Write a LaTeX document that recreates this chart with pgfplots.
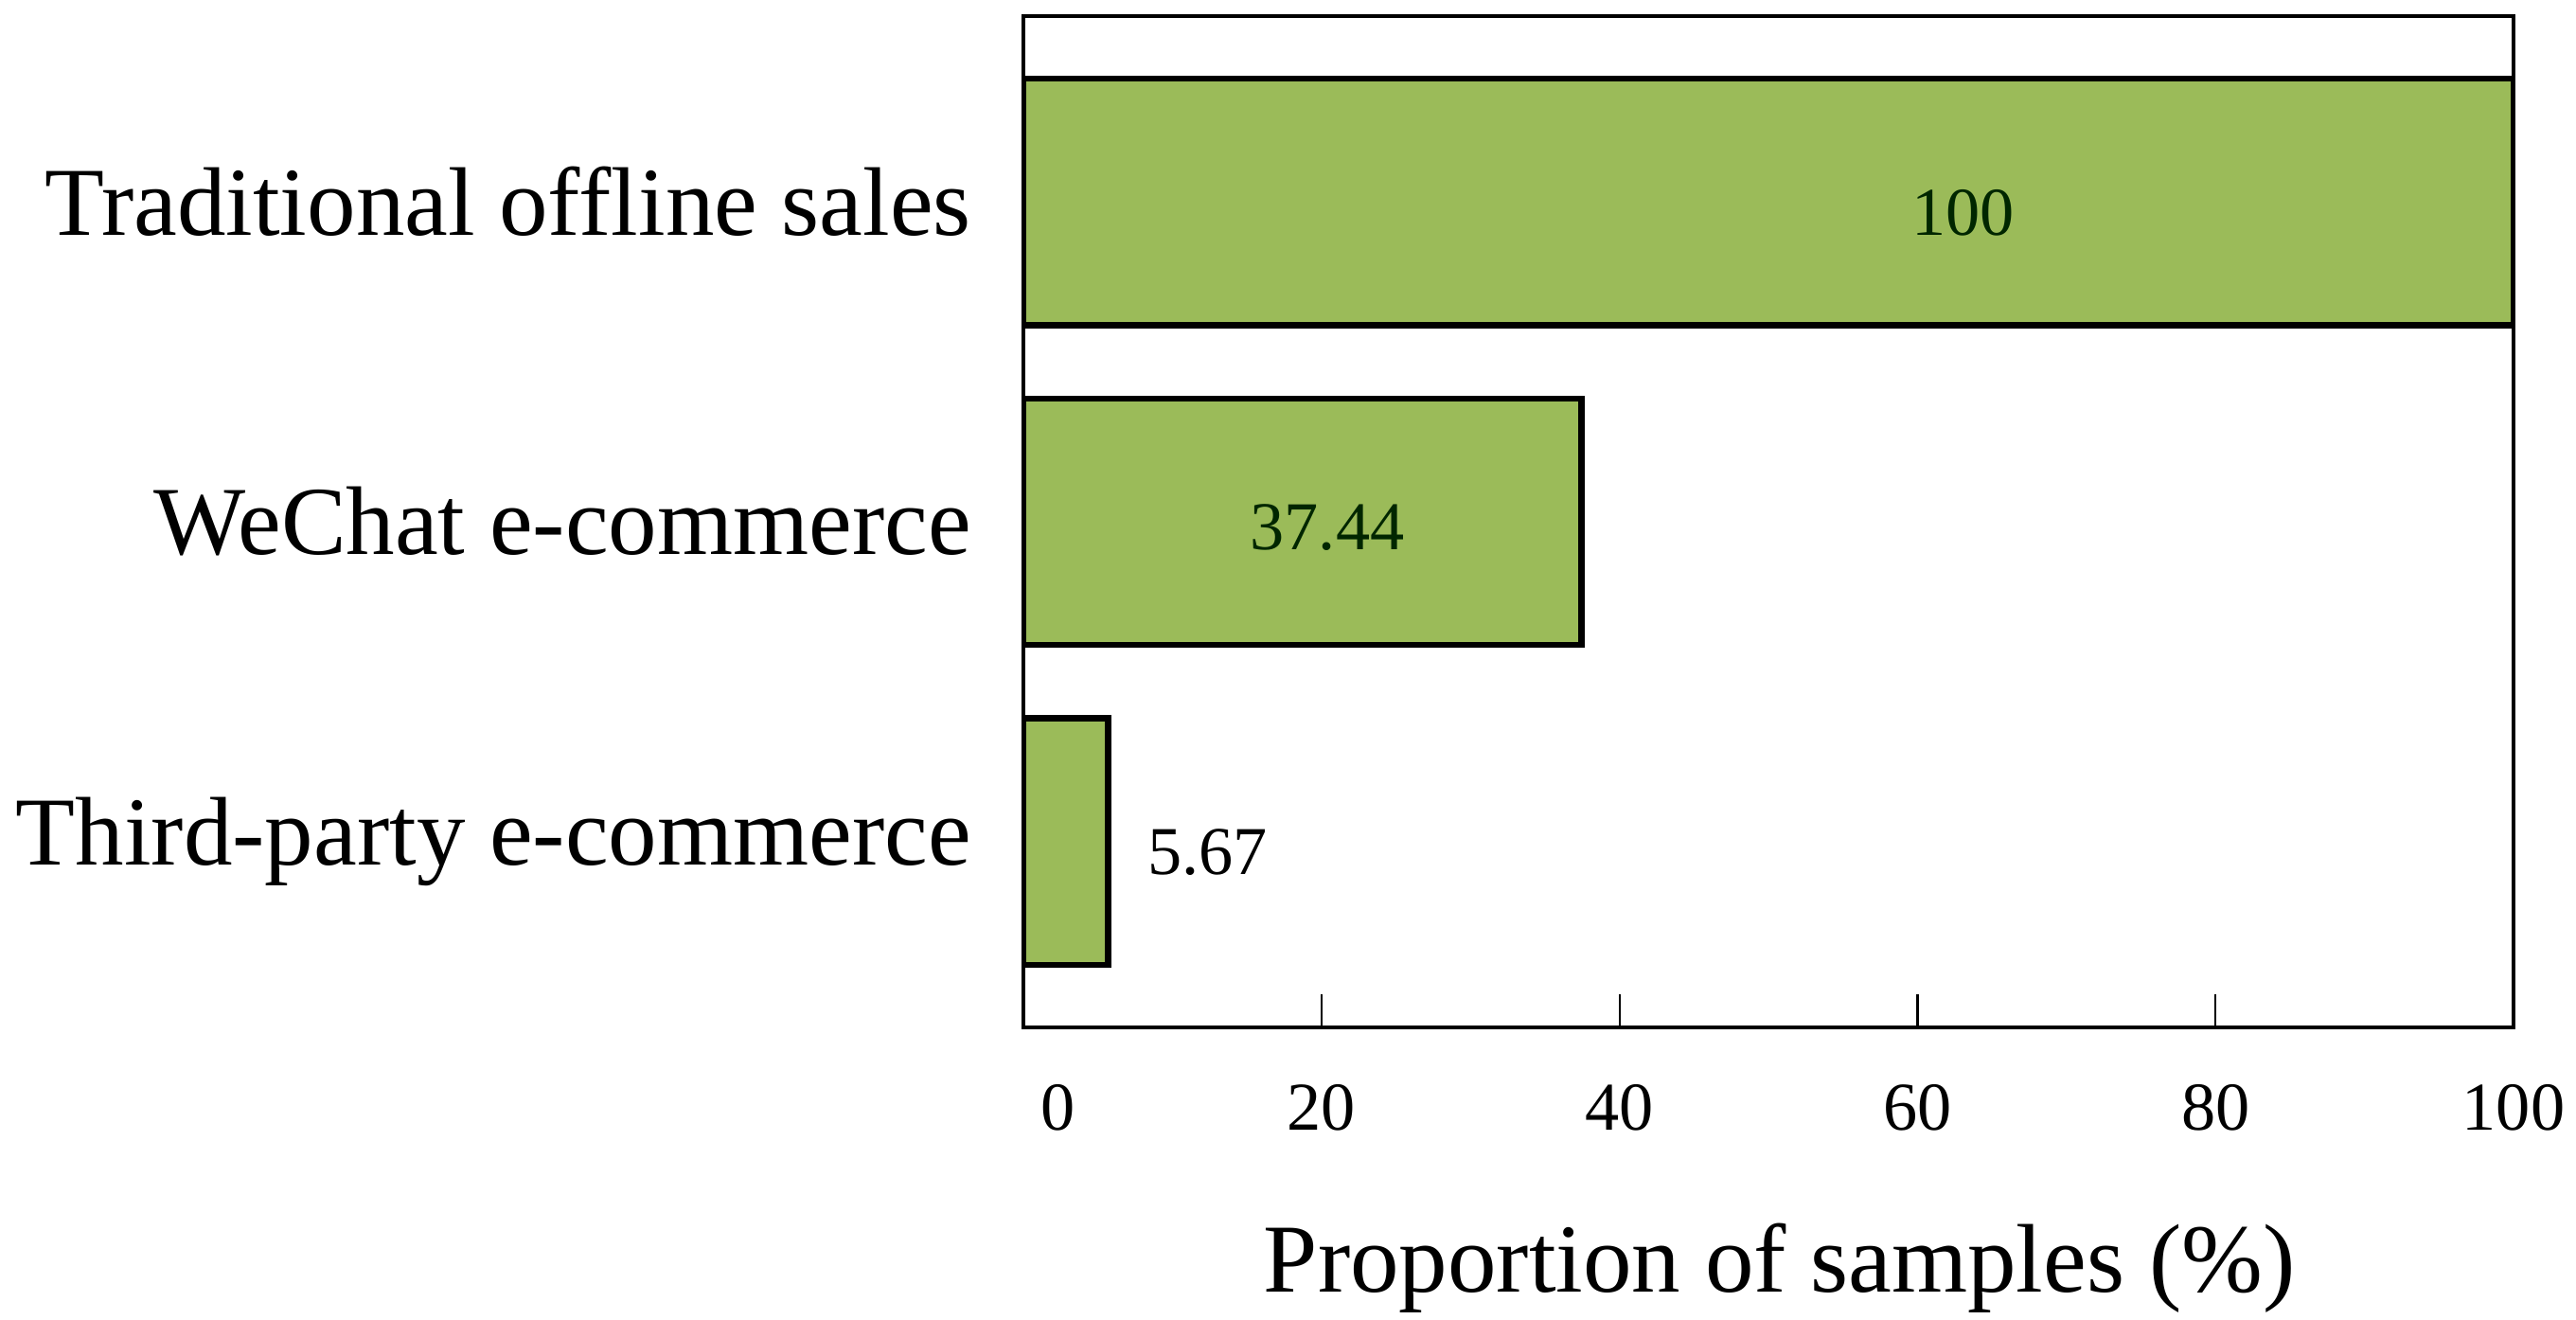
\documentclass[border=0pt]{standalone}
\usepackage{fontspec}
\setmainfont{Liberation Serif}
\usepackage{pgfplots}
\pgfplotsset{compat=1.18}
\usetikzlibrary{calc}
\definecolor{bargreen}{HTML}{9BBB59}
\begin{document}
\begin{tikzpicture}[x=1pt,y=1pt]
\begin{axis}[
  name=main,
  scale only axis,
  width=272.1pt, height=184.5pt,
  xbar, bar width=45pt,
  xmin=0, xmax=100,
  ymin=-0.58, ymax=2.58,
  axis line style={line width=0.7pt},
  xtick={0,20,40,60,80,100},
  xticklabels={{\hphantom{00}0},20,40,60,80,100},
  tick pos=bottom,
  tick align=inside,
  major tick length=6pt,
  xtick style={line width=0.4pt, black},
  xticklabel style={font=\fontsize{12.5}{14}\selectfont, yshift=-7pt},
  /pgf/number format/assume math mode=true,
  ytick={0,1,2},
  yticklabels={Third-party e-commerce, WeChat e-commerce, Traditional offline sales},
  ytick style={draw=none},
  yticklabel style={font=\fontsize{17.8}{20}\selectfont, xshift=-6pt},
  xlabel={Proportion of samples (\%)},
  xlabel style={font=\fontsize{17.8}{20}\selectfont, yshift=-10pt, xshift=2pt},
  nodes near coords,
  nodes near coords style={font=\fontsize{12.5}{14}\selectfont, text=black!85!green},
]
\addplot[bar shift=0pt, fill=bargreen, draw=black, line width=1.1pt,
  every node near coord/.append style={anchor=center, xshift=-100.5pt, yshift=-2pt}]
  coordinates {(100,2)};
\addplot[bar shift=0pt, fill=bargreen, draw=black, line width=1.1pt,
  every node near coord/.append style={anchor=center, xshift=-46.4pt, yshift=-1pt},
  nodes near coords={37.44}]
  coordinates {(37.44,1)};
\addplot[bar shift=0pt, fill=bargreen, draw=black, line width=1.1pt,
  every node near coord/.append style={anchor=center, xshift=18.2pt, yshift=-2pt, text=black},
  nodes near coords={5.67}]
  coordinates {(5.67,0)};
\end{axis}
\pgfresetboundingbox
\path (main.south west) ++(-186.9pt,-53.4pt) rectangle ($(main.north east)+(11.4pt,3pt)$);
\end{tikzpicture}
\end{document}
